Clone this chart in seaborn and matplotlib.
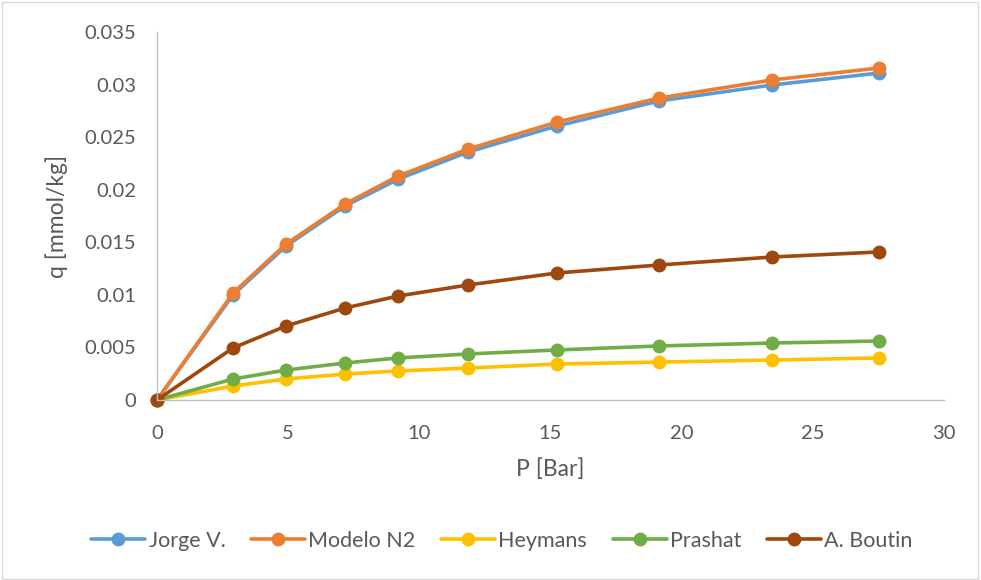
import matplotlib
matplotlib.use("Agg")
import matplotlib.pyplot as plt
from matplotlib.patches import Rectangle
import seaborn as sns
import pandas as pd

# Pressure points [Bar]
pressure = [0, 2.90, 4.92, 7.17, 9.19, 11.86, 15.25, 19.14, 23.45, 27.53]

# Adsorbed amount q [mmol/kg] for each source/model
jorge_v = [0, 0.0100, 0.01465, 0.01845, 0.0210, 0.02359, 0.02606, 0.02844, 0.02996, 0.0311]
modelo_n2 = [0, 0.01018, 0.01484, 0.01864, 0.0213, 0.02387, 0.02644, 0.02872, 0.03044, 0.03158]
heymans = [0, 0.00133, 0.0020, 0.00247, 0.00276, 0.00304, 0.00342, 0.00361, 0.0038, 0.0040]
prashat = [0, 0.0020, 0.00285, 0.00352, 0.0040, 0.00438, 0.00476, 0.00514, 0.00542, 0.00561]
a_boutin = [0, 0.00495, 0.00704, 0.00875, 0.00989, 0.01094, 0.01208, 0.01284, 0.0136, 0.01408]

series_names = ["Jorge V.", "Modelo N2", "Heymans", "Prashat", "A. Boutin"]
series_values = [jorge_v, modelo_n2, heymans, prashat, a_boutin]
colors = ["#5B9BD5", "#ED7D31", "#FFC000", "#70AD47", "#9E480E"]

x_ticks = [0, 5, 10, 15, 20, 25, 30]
y_ticks = [0, 0.005, 0.01, 0.015, 0.02, 0.025, 0.03, 0.035]
y_tick_labels = ["0", "0.005", "0.01", "0.015", "0.02", "0.025", "0.03", "0.035"]

df = pd.concat(
    [pd.DataFrame({"P": pressure, "q": vals, "serie": name})
     for name, vals in zip(series_names, series_values)],
    ignore_index=True,
)

sns.set_theme(style="white")
plt.rcParams["font.family"] = ["Lato", "DejaVu Sans"]

text_color = "#595959"

fig = plt.figure(figsize=(9.81, 5.80), dpi=100)
ax = fig.add_axes([157 / 981, 1 - 400 / 580, (944 - 157) / 981, (400 - 32) / 580])

for name, color in zip(series_names, colors):
    sns.lineplot(
        data=df[df["serie"] == name], x="P", y="q", ax=ax,
        color=color, linewidth=2.6, marker="o", markersize=10,
        markeredgecolor=color, markeredgewidth=0, label=name,
        estimator=None, sort=False, clip_on=False,
    )

ax.set_xlim(0, 30)
ax.set_ylim(0, 0.035)
ax.set_xticks(x_ticks)
ax.set_xticklabels([str(t) for t in x_ticks])
ax.set_yticks(y_ticks)
ax.set_yticklabels(y_tick_labels)
ax.tick_params(axis="y", labelsize=14.5, colors=text_color, length=0, pad=15)
ax.tick_params(axis="x", labelsize=14.5, colors=text_color, length=0, pad=18)

for side in ["top", "right"]:
    ax.spines[side].set_visible(False)
for side in ["left", "bottom"]:
    ax.spines[side].set_color("#BFBFBF")
    ax.spines[side].set_linewidth(1.0)

ax.set_xlabel("P [Bar]", fontsize=16.5, color=text_color, labelpad=12)
ax.set_ylabel("q [mmol/kg]", fontsize=16.5, color=text_color, labelpad=12)

handles, labels = ax.get_legend_handles_labels()
ax.legend(
    handles, labels, loc="center", bbox_to_anchor=(502 / 981, 1 - 541 / 580),
    bbox_transform=fig.transFigure, ncol=5, frameon=False, fontsize=15.5,
    handlelength=2.5, columnspacing=1.2, handletextpad=0.15, labelcolor=text_color,
)

fig.patches.append(Rectangle((0.002, 0.002), 0.995, 0.995, transform=fig.transFigure,
                             fill=False, edgecolor="#D9D9D9", linewidth=1.0))

fig.savefig("out.png", dpi=100)
